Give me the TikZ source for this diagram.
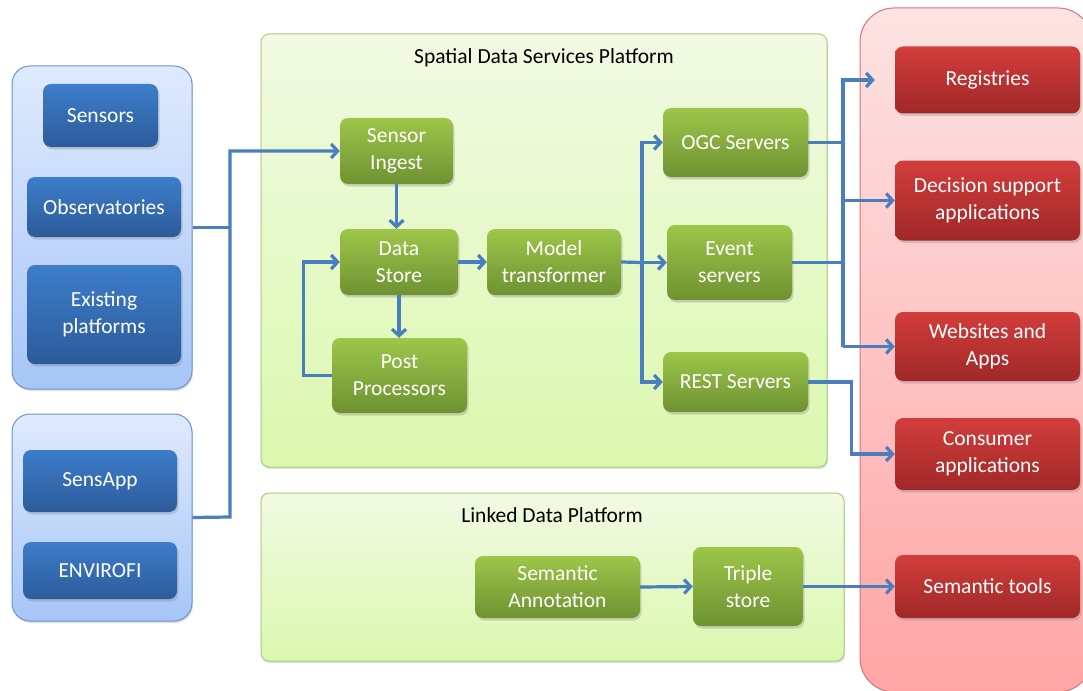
\documentclass[tikz,border=0pt]{standalone}
\usepackage{fontspec}
\setmainfont{Carlito}
\usetikzlibrary{arrows.meta,shadows}

\definecolor{flow}{HTML}{4A7EBF}
\definecolor{bluetop}{HTML}{3D7DCA}
\definecolor{bluebot}{HTML}{2C5B9A}
\definecolor{blueboxtop}{HTML}{DFEAFD}
\definecolor{blueboxbot}{HTML}{A6C6F7}
\definecolor{blueedge}{HTML}{6E94C9}
\definecolor{greentop}{HTML}{9DC64A}
\definecolor{greenbot}{HTML}{6E9232}
\definecolor{greenboxtop}{HTML}{F1FAE3}
\definecolor{greenboxbot}{HTML}{DBF8AE}
\definecolor{greenedge}{HTML}{ABCB7C}
\definecolor{redtop}{HTML}{D23D3B}
\definecolor{redbot}{HTML}{A02828}
\definecolor{redboxtop}{HTML}{FDE3E3}
\definecolor{redboxbot}{HTML}{FFA5A5}
\definecolor{rededge}{HTML}{D27575}

\tikzset{
  lbl/.style={font=\fontsize{21.5}{27}\selectfont, align=center},
  unit/.style={lbl, text=white, rounded corners=8pt, inner sep=0pt,
    drop shadow={shadow xshift=1.5pt, shadow yshift=-2.5pt, opacity=0.3}},
  bluebox/.style={unit, top color=bluetop, bottom color=bluebot},
  greenbox/.style={unit, top color=greentop, bottom color=greenbot},
  redbox/.style={unit, top color=redtop, bottom color=redbot},
  bluegroup/.style={draw=blueedge, line width=1pt, rounded corners=18pt,
    top color=blueboxtop, bottom color=blueboxbot, inner sep=0pt,
    drop shadow={shadow xshift=1pt, shadow yshift=-2pt, opacity=0.25}},
  greengroup/.style={draw=greenedge, line width=1pt, rounded corners=8pt,
    top color=greenboxtop, bottom color=greenboxbot, inner sep=0pt,
    drop shadow={shadow xshift=1pt, shadow yshift=-2pt, opacity=0.25}},
  redgroup/.style={draw=rededge, line width=1pt, rounded corners=34pt,
    top color=redboxtop, bottom color=redboxbot, inner sep=0pt},
  ln/.style={draw=flow, line width=3.2pt},
  ar/.style={ln, -{Straight Barb[length=6.5pt,width=14pt]}},
}

\begin{document}
\begin{tikzpicture}[x=1pt, y=-1pt]
\useasboundingbox (0,0) rectangle (1083,690);
\fill[white] (0,0) rectangle (1083,690);

% group panels
\node[bluegroup, minimum width=180pt, minimum height=323pt] (src) at (102,227.5) {};
\node[bluegroup, minimum width=180pt, minimum height=207pt] (ext) at (102,517.5) {};
\node[greengroup, minimum width=566pt, minimum height=433pt] (sdsp) at (544,250.5) {};
\node[greengroup, minimum width=583pt, minimum height=168pt] (ldp) at (552.5,577) {};
\node[redgroup, minimum width=232pt, minimum height=684pt] (use) at (976,350) {};

\node[lbl] (sdsptitle) at (544,58) {Spatial Data Services Platform};
\node[lbl] (ldptitle) at (552,515) {Linked Data Platform};

% data sources
\node[bluebox, minimum width=115pt, minimum height=63pt] (sensors) at (100.5,115.5) {Sensors};
\node[bluebox, minimum width=154pt, minimum height=60pt] (obs) at (104,207) {Observatories};
\node[bluebox, minimum width=154pt, minimum height=99pt] (exist) at (104,314.5) {Existing\\platforms};
\node[bluebox, minimum width=154pt, minimum height=62pt] (sensapp) at (100,481) {SensApp};
\node[bluebox, minimum width=154pt, minimum height=57pt] (envirofi) at (100,570.5) {ENVIROFI};

% spatial data services
\node[greenbox, minimum width=113pt, minimum height=66pt] (ingest) at (396.5,151) {Sensor\\Ingest};
\node[greenbox, minimum width=118pt, minimum height=66pt] (store) at (399,262) {Data\\Store};
\node[greenbox, minimum width=134pt, minimum height=66pt] (model) at (554,262) {Model\\transformer};
\node[greenbox, minimum width=135pt, minimum height=75pt] (post) at (399.5,375.5) {Post\\Processors};
\node[greenbox, minimum width=145pt, minimum height=69pt] (ogc) at (735.5,142.5) {OGC Servers};
\node[greenbox, minimum width=125pt, minimum height=75pt] (event) at (729.5,262.5) {Event\\servers};
\node[greenbox, minimum width=145pt, minimum height=60pt] (rest) at (735.5,382) {REST Servers};

% linked data
\node[greenbox, minimum width=165pt, minimum height=62pt] (annot) at (557.5,587) {Semantic\\Annotation};
\node[greenbox, minimum width=110pt, minimum height=79pt] (triple) at (748,586.5) {Triple\\store};

% consumers
\node[redbox, minimum width=185pt, minimum height=67pt] (reg) at (987.5,80) {Registries};
\node[redbox, minimum width=185pt, minimum height=80pt] (dec) at (987.5,200.5) {Decision support\\applications};
\node[redbox, minimum width=185pt, minimum height=69pt] (web) at (987.5,346.5) {Websites and\\Apps};
\node[redbox, minimum width=185pt, minimum height=72pt] (cons) at (987.5,454) {Consumer\\applications};
\node[redbox, minimum width=185pt, minimum height=63pt] (semt) at (987.5,586.5) {Semantic tools};

% ingest feed
\coordinate (jin) at (230,517);
\draw[ln] (src.east) -- (src.east -| jin);
\draw[ar] (ext.east) -- (jin) |- (ingest.west);

% processing chain
\draw[ar] (ingest.south) -- (ingest.south |- store.north);
\draw[ar] (store.south) -- (store.south |- post.north);
\draw[ar] (post.west) -- ++(-28,0) |- (store.west);
\draw[ar] (store.east) -- (model.west);

% fan out to servers
\coordinate (fan) at (642,262.5);
\draw[ln] (model.east) -- (fan);
\draw[ar] (fan) |- (ogc.west);
\draw[ar] (fan) -- (event.west);
\draw[ar] (fan) |- (rest.west);

% delivery bus
\coordinate (bt) at (843,80);
\coordinate (bb) at (843,346.5);
\draw[ln] (ogc.east) -- (ogc.east -| bt);
\draw[ln] (event.east) -- (event.east -| bt);
\draw[ar, shorten >=20pt] (bb) |- (reg.west);
\draw[ar] (dec.west -| bt) -- (dec.west);
\draw[ar] (bb) -- (web.west);
\draw[ar] (rest.east) -- ++(43,0) |- (cons.west);

% linked data flow
\draw[ar] (annot.east) -- (triple.west);
\draw[ar] (triple.east) -- (semt.west);
\end{tikzpicture}
\end{document}
